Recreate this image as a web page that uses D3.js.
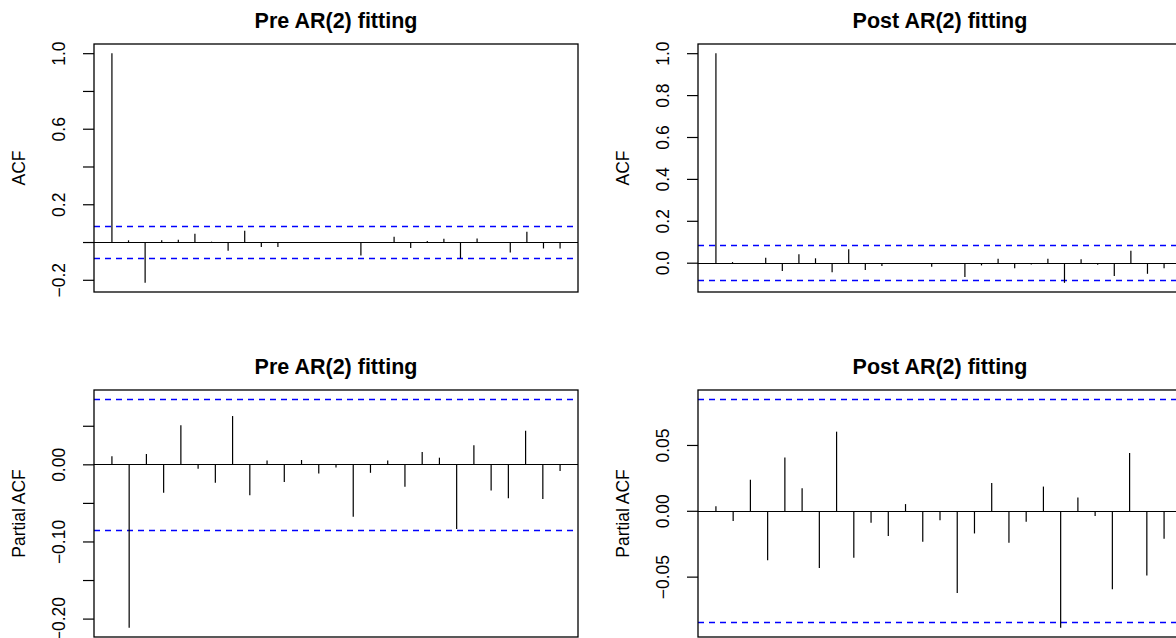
<!DOCTYPE html>
<html>
<head>
<meta charset="utf-8">
<script src="https://cdn.jsdelivr.net/npm/d3@7"></script>
<style>
  body { margin: 0; background: #fff; }
  svg text { font-family: "Liberation Sans", Arial, Helvetica, sans-serif; fill: #000; }
</style>
</head>
<body>
<svg id="acf_plots" width="1176" height="638"></svg>
<script>
    // lags
    var acfLags = d3.range(0, 28);
    var pacfLags = d3.range(1, 28);

    // ACF before / after the AR(2) fit
    var preAcf = [1.0, 0.009, -0.216, 0.009, 0.012, 0.044, 0.002, -0.046, 0.060, -0.027,
        -0.027, -0.005, -0.002, -0.005, -0.002, -0.071, -0.005, 0.028, -0.032, 0.005,
        0.018, -0.087, 0.019, -0.005, -0.055, 0.055, -0.034, -0.034];
    var postAcf = [1.0, 0.003, -0.005, 0.024, -0.040, 0.040, 0.021, -0.045, 0.064, -0.035,
        -0.016, -0.005, -0.005, -0.019, -0.004, -0.068, -0.013, 0.019, -0.027, -0.008,
        0.019, -0.096, 0.016, -0.010, -0.064, 0.057, -0.053, -0.027];

    // partial ACF
    var prePacf = [0.0104, -0.212, 0.0134, -0.037, 0.0505, -0.0056, -0.024, 0.0626, -0.040,
        0.0048, -0.023, 0.0056, -0.012, -0.004, -0.068, -0.011, 0.0048, -0.029, 0.016,
        0.0086, -0.084, 0.0246, -0.034, -0.044, 0.0436, -0.045, -0.0086];
    var postPacf = [0.0035, -0.0078, 0.0235, -0.0376, 0.0404, 0.0172, -0.0434, 0.0601, -0.0356,
        -0.0091, -0.0192, 0.0051, -0.0235, -0.0071, -0.0624, -0.0172, 0.0212, -0.0242, -0.0083,
        0.0184, -0.0889, 0.0101, -0.0040, -0.0596, 0.0439, -0.0492, -0.0212];

    // 95% bounds
    var preClim = 0.0845;
    var postClim = 0.0848;

    // y ticks, and the ones that get a label
    var preAcfTicks = [-0.2, 0, 0.2, 0.4, 0.6, 0.8, 1.0];
    var preAcfLabels = [-0.2, 0.2, 0.6, 1.0];
    var postAcfTicks = [0, 0.2, 0.4, 0.6, 0.8, 1.0];
    var postAcfLabels = [0, 0.2, 0.4, 0.6, 0.8, 1.0];
    var prePacfTicks = [-0.2, -0.15, -0.1, -0.05, 0, 0.05];
    var prePacfLabels = [-0.2, -0.1, 0];
    var postPacfTicks = [-0.05, 0, 0.05];
    var postPacfLabels = [-0.05, 0, 0.05];

    var titles = ["Pre AR(2) fitting", "Post AR(2) fitting"];

    var svg = d3.select("#acf_plots");

    var panels = [
        {lags: acfLags, vals: preAcf, clim: preClim, ticks: preAcfTicks, labels: preAcfLabels, fmt: ".1f",
            title: titles[0], ylab: "ACF", x0: 94, x1: 578, y0: 44, y1: 292},
        {lags: acfLags, vals: postAcf, clim: postClim, ticks: postAcfTicks, labels: postAcfLabels, fmt: ".1f",
            title: titles[1], ylab: "ACF", x0: 698, x1: 1182, y0: 44, y1: 292},
        {lags: pacfLags, vals: prePacf, clim: preClim, ticks: prePacfTicks, labels: prePacfLabels, fmt: ".2f",
            title: titles[0], ylab: "Partial ACF", x0: 94, x1: 578, y0: 390, y1: 637},
        {lags: pacfLags, vals: postPacf, clim: postClim, ticks: postPacfTicks, labels: postPacfLabels, fmt: ".2f",
            title: titles[1], ylab: "Partial ACF", x0: 698, x1: 1182, y0: 390, y1: 637}
    ];

    // R style 4% padding on both ends
    function padded(ext) {
        var d = (ext[1] - ext[0]) * 0.04;
        return [ext[0] - d, ext[1] + d];
    }

    panels.forEach(function (p) {
        var x = d3.scaleLinear()
            .domain(padded(d3.extent(p.lags)))
            .range([p.x0, p.x1]);
        var y = d3.scaleLinear()
            .domain(padded(d3.extent(p.vals.concat([-p.clim, p.clim]))))
            .range([p.y1, p.y0]);
        // snap horizontal rules on a pixel row
        var ySnap = function (v) {return Math.round(y(v)) + 0.5;};

        var g = svg.append("g");
        var f = d3.format(p.fmt);

        // y axis, labels turned like R does
        var axis = g.append("g")
            .attr("transform", "translate(" + p.x0 + ",0)")
            .call(d3.axisLeft(y)
                .tickValues(p.ticks)
                .tickSize(11)
                .tickFormat(function (d) {
                    return p.labels.some(function (l) {return Math.abs(l - d) < 1e-9;}) ? f(d) : "";
                }));
        axis.select(".domain").remove();
        axis.selectAll(".tick line").attr("stroke", "#000").attr("stroke-width", 1.2);
        axis.selectAll(".tick text")
            .attr("transform", "rotate(-90)")
            .attr("x", 0)
            .attr("y", -29)
            .attr("dy", 0)
            .attr("text-anchor", "middle")
            .style("font-size", "17.5px");

        // confidence bounds
        g.selectAll(".clim")
            .data([p.clim, -p.clim])
            .enter()
            .append("line")
            .attr("class", "clim")
            .attr("x1", p.x0)
            .attr("x2", p.x1)
            .attr("y1", function (d) {return ySnap(d);})
            .attr("y2", function (d) {return ySnap(d);})
            .attr("stroke", "#0000ff")
            .attr("stroke-width", 1.5)
            .attr("stroke-dasharray", "6,5");

        // zero line
        g.append("line")
            .attr("x1", p.x0)
            .attr("x2", p.x1)
            .attr("y1", ySnap(0))
            .attr("y2", ySnap(0))
            .attr("stroke", "#000")
            .attr("stroke-width", 1.2);

        // spikes
        g.selectAll(".spike")
            .data(p.vals)
            .enter()
            .append("line")
            .attr("class", "spike")
            .attr("x1", function (d, i) {return x(p.lags[i]);})
            .attr("x2", function (d, i) {return x(p.lags[i]);})
            .attr("y1", ySnap(0))
            .attr("y2", function (d) {return y(d);})
            .attr("stroke", "#000")
            .attr("stroke-width", 1.2);

        // frame
        g.append("rect")
            .attr("x", p.x0)
            .attr("y", p.y0)
            .attr("width", p.x1 - p.x0)
            .attr("height", p.y1 - p.y0)
            .attr("fill", "none")
            .attr("stroke", "#000")
            .attr("stroke-width", 1.3);

        // title
        g.append("text")
            .attr("x", (p.x0 + p.x1) / 2)
            .attr("y", p.y0 - 16)
            .attr("text-anchor", "middle")
            .style("font-size", "21.5px")
            .style("font-weight", "bold")
            .text(p.title);

        // y label
        g.append("text")
            .attr("transform", "translate(" + (p.x0 - 69) + "," + ((p.y0 + p.y1) / 2) + ") rotate(-90)")
            .attr("text-anchor", "middle")
            .style("font-size", "17.5px")
            .text(p.ylab);
    });
</script>
</body>
</html>
